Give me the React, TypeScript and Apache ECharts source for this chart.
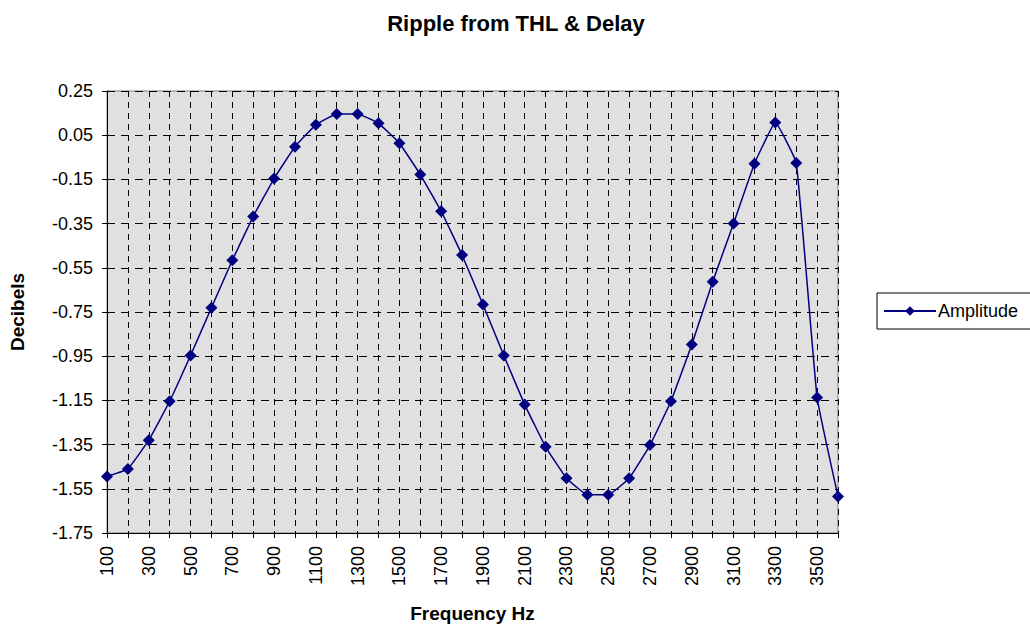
import React, { useEffect, useRef } from "react";
import * as echarts from "echarts";

const categories = [
  "100", "200", "300", "400", "500", "600", "700", "800", "900", "1000",
  "1100", "1200", "1300", "1400", "1500", "1600", "1700", "1800", "1900", "2000",
  "2100", "2200", "2300", "2400", "2500", "2600", "2700", "2800", "2900", "3000",
  "3100", "3200", "3300", "3400", "3500", "3600",
];
const amplitude = [
  -1.494, -1.46, -1.33, -1.154, -0.947, -0.731, -0.516, -0.318, -0.146, -0.002,
  0.097, 0.146, 0.146, 0.104, 0.014, -0.128, -0.294, -0.492, -0.716, -0.947,
  -1.169, -1.36, -1.502, -1.577, -1.577, -1.502, -1.352, -1.154, -0.897, -0.613,
  -0.349, -0.079, 0.107, -0.076, -1.137, -1.585,
];
const yMin = -1.75;
const yMax = 0.25;
const yStep = 0.2;

const FONT = "Liberation Sans, Arial, sans-serif";

export default function App() {
  const ref = useRef<HTMLDivElement>(null);
  useEffect(() => {
    if (!ref.current) return;
    const chart = echarts.init(ref.current, undefined, { renderer: "svg" });
    chart.setOption({
      animation: false,
      backgroundColor: "#ffffff",
      title: {
        text: "Ripple from THL & Delay",
        left: 511,
        textAlign: "center",
        top: 7,
        textStyle: { fontFamily: FONT, fontSize: 22, fontWeight: "bold", color: "#000" },
      },
      legend: {
        left: 877,
        top: 293,
        orient: "vertical",
        borderColor: "#000",
        borderWidth: 1,
        padding: [9, 24, 9, 6],
        itemWidth: 52,
        itemHeight: 12,
        itemGap: 4,
        textStyle: { fontFamily: FONT, fontSize: 18, color: "#000", padding: [0, 0, 0, -3] },
        data: ["Amplitude"],
      },
      grid: {
        left: 105,
        right: 192,
        top: 91,
        bottom: 93,
        show: true,
        backgroundColor: "#e0e0e0",
        borderColor: "#808080",
        borderWidth: 1,
      },
      xAxis: {
        type: "category",
        data: categories,
        boundaryGap: false,
        name: "Frequency Hz",
        nameLocation: "middle",
        nameGap: 71,
        nameTextStyle: { fontFamily: FONT, fontSize: 19, fontWeight: "bold", color: "#000" },
        axisLine: { onZero: false, lineStyle: { color: "#000", width: 1 } },
        axisTick: { show: true, interval: 0, length: 5, lineStyle: { color: "#000" } },
        axisLabel: {
          interval: 1,
          rotate: 90,
          fontFamily: FONT,
          fontSize: 18,
          color: "#000",
          margin: 13,
        },
        splitLine: {
          show: true,
          interval: 0,
          lineStyle: { color: "#000", type: [6, 5], width: 1 },
        },
      },
      yAxis: {
        type: "value",
        min: yMin,
        max: yMax,
        interval: yStep,
        name: "Decibels",
        nameLocation: "middle",
        nameGap: 80,
        nameRotate: 90,
        nameTextStyle: { fontFamily: FONT, fontSize: 19, fontWeight: "bold", color: "#000" },
        axisLine: { show: true, lineStyle: { color: "#000", width: 1 } },
        axisTick: { show: true, length: 5, lineStyle: { color: "#000" } },
        axisLabel: {
          fontFamily: FONT,
          fontSize: 18,
          color: "#000",
          margin: 14,
          formatter: (v: number) => v.toFixed(2),
        },
        splitLine: {
          show: true,
          lineStyle: { color: "#000", type: [8, 6], width: 1 },
        },
      },
      series: [
        {
          name: "Amplitude",
          type: "line",
          data: amplitude,
          smooth: 0.1,
          symbol: "diamond",
          symbolSize: 12,
          lineStyle: { color: "#000080", width: 1.5 },
          itemStyle: { color: "#000080" },
        },
      ],
    });
    return () => chart.dispose();
  }, []);
  return (
    <div
      ref={ref}
      style={{ position: "fixed", left: 0, top: 0, width: 1030, height: 628 }}
    />
  );
}
